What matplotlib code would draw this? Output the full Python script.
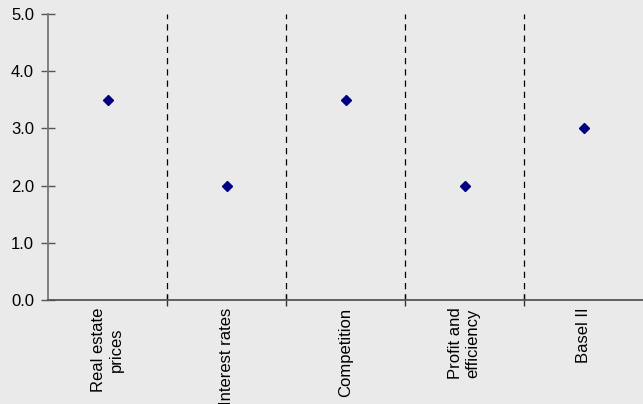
import numpy as np
import matplotlib.pyplot as plt

plt.rcParams['font.family'] = ['Liberation Sans', 'DejaVu Sans']

# data
categories = ['Real estate\nprices', 'Interest rates', 'Competition',
              'Profit and\nefficiency', 'Basel II']
scores = [3.5, 2.0, 3.5, 2.0, 3.0]
yticks = [0.0, 1.0, 2.0, 3.0, 4.0, 5.0]

bg = '#EAEAEA'
fig = plt.figure(figsize=(6.43, 4.04), dpi=100, facecolor=bg)
ax = fig.add_axes([48 / 643, 104 / 404, 1 - 48 / 643, 286 / 404], facecolor=bg)

x = np.arange(len(categories))
ax.plot(x, scores, linestyle='none', marker='D', color='#000080', markersize=5.5)

# dashed separators between categories
for b in x[:-1] + 0.5:
    ax.axvline(b, color='black', linestyle=(0, (5, 4)), linewidth=0.9)

ax.set_xlim(-0.5, len(categories) - 0.5)
ax.set_ylim(0, 5)
ax.set_yticks(yticks)
ax.set_yticklabels([f'{v:.1f}' for v in yticks], fontsize=12)
ax.set_xticks(x[:-1] + 0.5, minor=False)
ax.set_xticklabels([])
ax.tick_params(axis='y', direction='inout', length=10, width=1, color='#555555', pad=5)
ax.tick_params(axis='x', direction='inout', length=8, width=1, color='#333333')

for xi, lab in zip(x, categories):
    ax.text(xi, -0.13, lab, rotation=90, ha='center', va='top', fontsize=12,
            multialignment='center', transform=ax.transData, clip_on=False)

for s in ['top', 'right']:
    ax.spines[s].set_visible(False)
ax.spines['left'].set_color('#777777')
ax.spines['left'].set_linewidth(1.3)
ax.spines['bottom'].set_color('#555555')
ax.spines['bottom'].set_linewidth(1.3)

plt.savefig('out.png', dpi=100, facecolor=bg)
